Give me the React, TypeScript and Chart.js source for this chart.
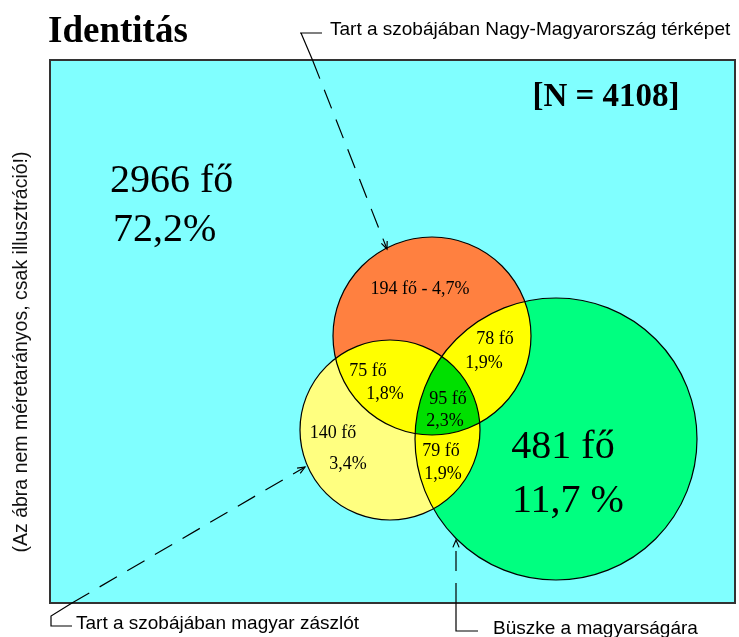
import React, { useEffect, useRef } from "react";
import { Chart, registerables } from "chart.js";

Chart.register(...registerables);

// ---- data ----
const titleText = "Identitás";
const totalN = 4108;
const circleNames = [
  "Tart a szobájában Nagy-Magyarország térképet",
  "Tart a szobájában magyar zászlót",
  "Büszke a magyarságára",
];
// circle centres and radii in plot units (not to scale – illustration)
const circleX = [76.4, 68, 101.2];
const circleY = [53.4, 34.6, 32.8];
const circleR = [19.8, 18, 28.2];
const circleColors = ["#FF8040", "#FFFF80", "#00FF80"];
const pairColor = "#FFFF00";
const tripleColor = "#00E000";

// regions: outside, only map, map+green, map+flag, all three, only flag, flag+green, only green
const regionCounts = [2966, 194, 78, 75, 95, 140, 79, 481];
const regionPercents = ["72,2%", "4,7%", "1,9%", "1,8%", "2,3%", "3,4%", "1,9%", "11,7 %"];
const sideNote = "(Az ábra nem méretarányos, csak illusztráció!)";

// ---- layout (plot units) ----
const regionLayout = [
  { cx: 12, cy: 82.2, px: 12.6, py: 72.4, size: 40, align: "left", single: false },
  { cx: 74, cy: 61.8, px: 0, py: 0, size: 18, align: "center", single: true },
  { cx: 89, cy: 51.8, px: 86.8, py: 47, size: 18, align: "center", single: false },
  { cx: 63.6, cy: 45.4, px: 67, py: 40.8, size: 18, align: "center", single: false },
  { cx: 79.6, cy: 39.8, px: 79, py: 35.4, size: 18, align: "center", single: false },
  { cx: 56.6, cy: 33, px: 59.6, py: 26.8, size: 18, align: "center", single: false },
  { cx: 78.2, cy: 29.4, px: 78.6, py: 24.8, size: 18, align: "center", single: false },
  { cx: 102.6, cy: 29, px: 103.6, py: 18.2, size: 40, align: "center", single: false },
];

const SERIF = "'Liberation Serif', 'Times New Roman', serif";
const SANS = "'Liberation Sans', Arial, sans-serif";

function arrowHead(ctx: CanvasRenderingContext2D, fx: number, fy: number, tx: number, ty: number) {
  const a = Math.atan2(ty - fy, tx - fx);
  const L = 8;
  ctx.beginPath();
  ctx.moveTo(tx - L * Math.cos(a - 0.4), ty - L * Math.sin(a - 0.4));
  ctx.lineTo(tx, ty);
  ctx.lineTo(tx - L * Math.cos(a + 0.4), ty - L * Math.sin(a + 0.4));
  ctx.stroke();
}

const radiusPx = (c: any) => {
  const s = c.chart.scales.x;
  const r = circleR[c.dataIndex] ?? 0;
  if (!s) return 0;
  const v = Math.abs(s.getPixelForValue(r) - s.getPixelForValue(0));
  return isFinite(v) ? v : 0;
};

const vennPlugin = {
  id: "venn",
  beforeDraw(chart: any) {
    const { ctx, chartArea: a } = chart;
    ctx.save();
    ctx.fillStyle = "#FFFFFF";
    ctx.fillRect(0, 0, chart.width, chart.height);
    ctx.fillStyle = "#80FFFF";
    ctx.fillRect(a.left, a.top, a.right - a.left, a.bottom - a.top);
    ctx.restore();
  },
  afterDatasetsDraw(chart: any) {
    const ctx: CanvasRenderingContext2D = chart.ctx;
    const xs = chart.scales.x;
    const ys = chart.scales.y;
    const meta = chart.getDatasetMeta(0);
    const pts = meta.data.map((el: any) => ({ x: el.x, y: el.y, r: el.options.radius }));
    const circlePath = (p: any) => {
      ctx.beginPath();
      ctx.arc(p.x, p.y, p.r, 0, Math.PI * 2);
    };
    const pairs = [
      [0, 1],
      [0, 2],
      [1, 2],
    ];
    pairs.forEach(([i, j]) => {
      ctx.save();
      circlePath(pts[i]);
      ctx.clip();
      circlePath(pts[j]);
      ctx.fillStyle = pairColor;
      ctx.fill();
      ctx.restore();
    });
    ctx.save();
    circlePath(pts[0]);
    ctx.clip();
    circlePath(pts[1]);
    ctx.clip();
    circlePath(pts[2]);
    ctx.fillStyle = tripleColor;
    ctx.fill();
    ctx.restore();

    ctx.save();
    ctx.strokeStyle = "#000";
    ctx.lineWidth = 1.2;
    pts.forEach((p: any) => {
      circlePath(p);
      ctx.stroke();
    });
    ctx.restore();

    // region labels
    ctx.save();
    ctx.fillStyle = "#000";
    ctx.textBaseline = "alphabetic";
    regionLayout.forEach((L, i) => {
      ctx.font = `${L.size}px ${SERIF}`;
      ctx.textAlign = L.align as CanvasTextAlign;
      if (L.single) {
        ctx.fillText(`${regionCounts[i]} fő - ${regionPercents[i]}`, xs.getPixelForValue(L.cx), ys.getPixelForValue(L.cy));
      } else {
        ctx.fillText(`${regionCounts[i]} fő`, xs.getPixelForValue(L.cx), ys.getPixelForValue(L.cy));
        ctx.fillText(regionPercents[i], xs.getPixelForValue(L.px), ys.getPixelForValue(L.py));
      }
    });
    ctx.font = `bold 33px ${SERIF}`;
    ctx.textAlign = "center";
    ctx.fillText(`[N = ${totalN}]`, xs.getPixelForValue(111.2), ys.getPixelForValue(99.4));
    ctx.restore();
  },
  afterDraw(chart: any) {
    const ctx: CanvasRenderingContext2D = chart.ctx;
    const a = chart.chartArea;
    ctx.save();
    // box border
    ctx.strokeStyle = "#333";
    ctx.lineWidth = 2;
    ctx.strokeRect(a.left, a.top, a.right - a.left, a.bottom - a.top);

    // title
    ctx.fillStyle = "#000";
    ctx.font = `bold 37px ${SERIF}`;
    ctx.textAlign = "left";
    ctx.textBaseline = "alphabetic";
    ctx.fillText(titleText, 48, 42);

    // side note
    ctx.save();
    ctx.translate(22, 352);
    ctx.rotate(-Math.PI / 2);
    ctx.font = `19.5px ${SANS}`;
    ctx.textAlign = "center";
    ctx.textBaseline = "middle";
    ctx.fillStyle = "#111";
    ctx.fillText(sideNote, 0, 0);
    ctx.restore();

    // circle captions
    ctx.font = `19px ${SANS}`;
    ctx.fillStyle = "#000";
    ctx.textAlign = "left";
    ctx.fillText(circleNames[0], 330, 35);
    ctx.fillText(circleNames[1], 76, 629);
    ctx.fillText(circleNames[2], 493, 634);

    ctx.strokeStyle = "#000";
    ctx.lineWidth = 1.2;
    // leader 1 (top)
    ctx.beginPath();
    ctx.moveTo(322, 33);
    ctx.lineTo(300, 33);
    ctx.moveTo(301, 33);
    ctx.lineTo(312.5, 60);
    ctx.stroke();
    ctx.setLineDash([20, 12]);
    ctx.beginPath();
    ctx.moveTo(312.5, 60);
    ctx.lineTo(387, 249);
    ctx.stroke();
    ctx.setLineDash([]);
    arrowHead(ctx, 301, 33, 387, 249);

    // leader 2 (bottom left)
    ctx.beginPath();
    ctx.moveTo(72, 626);
    ctx.lineTo(51, 626);
    ctx.lineTo(51, 616);
    ctx.lineTo(72, 603);
    ctx.stroke();
    ctx.setLineDash([20, 12]);
    ctx.beginPath();
    ctx.moveTo(72, 603);
    ctx.lineTo(305, 467);
    ctx.stroke();
    ctx.setLineDash([]);
    arrowHead(ctx, 51, 616, 305, 467);

    // leader 3 (bottom right)
    ctx.beginPath();
    ctx.moveTo(478, 631);
    ctx.lineTo(456, 631);
    ctx.lineTo(456, 603);
    ctx.stroke();
    ctx.setLineDash([20, 12]);
    ctx.beginPath();
    ctx.moveTo(456, 603);
    ctx.lineTo(456, 540);
    ctx.stroke();
    ctx.setLineDash([]);
    arrowHead(ctx, 456, 631, 456, 540);
    ctx.restore();
  },
};

export default function App() {
  const ref = useRef<HTMLCanvasElement | null>(null);
  useEffect(() => {
    if (!ref.current) return;
    const chart = new Chart(ref.current, {
      type: "scatter",
      data: {
        datasets: [
          {
            label: "Venn",
            data: circleX.map((x, i) => ({ x, y: circleY[i] })),
            pointBackgroundColor: circleColors,
            pointBorderWidth: 0,
            pointRadius: radiusPx,
            pointHoverRadius: radiusPx,
            showLine: false,
            clip: false,
          } as any,
        ],
      },
      options: {
        animation: false,
        responsive: false,
        devicePixelRatio: 1,
        events: [],
        layout: { padding: { left: 50, top: 60, right: 4, bottom: 34 } },
        scales: {
          x: { type: "linear", min: 0, max: 137, display: false },
          y: { type: "linear", min: 0, max: 108.6, display: false },
        },
        plugins: { legend: { display: false }, tooltip: { enabled: false }, title: { display: false } },
      },
      plugins: [vennPlugin],
    });
    return () => chart.destroy();
  }, []);
  return (
    <div style={{ position: "fixed", left: 0, top: 0, width: 739, height: 637, background: "#fff" }}>
      <canvas ref={ref} width={739} height={637} style={{ display: "block" }} />
    </div>
  );
}
